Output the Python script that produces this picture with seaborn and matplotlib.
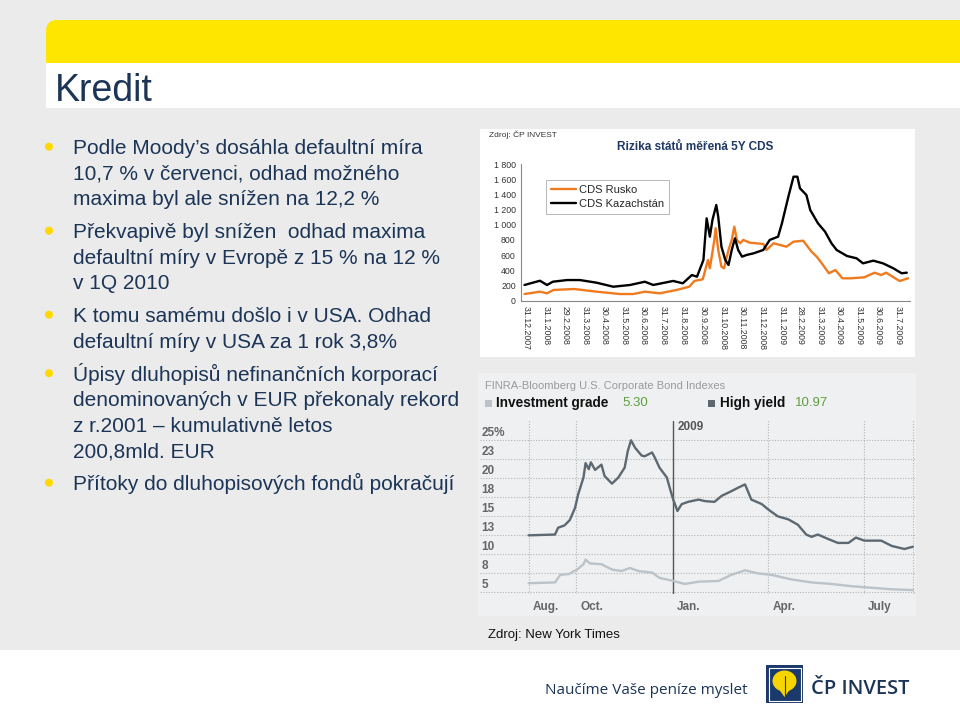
import matplotlib as mpl
import matplotlib.pyplot as plt
from matplotlib.patches import Rectangle, FancyBboxPatch, Circle, Ellipse, Polygon
import seaborn as sns
import pandas as pd

sns.set_style('white')
plt.rcParams['font.family'] = ['Liberation Sans', 'DejaVu Sans']

# ---------------- data ----------------
bullets = [
    ["Podle Moody\u2019s dosáhla defaultní míra",
     "10,7 % v červenci, odhad možného",
     "maxima byl ale snížen na 12,2 %"],
    ["Překvapivě byl snížen  odhad maxima",
     "defaultní míry v Evropě z 15 % na 12 %",
     "v 1Q 2010"],
    ["K tomu samému došlo i v USA. Odhad",
     "defaultní míry v USA za 1 rok 3,8%"],
    ["Úpisy dluhopisů nefinančních korporací",
     "denominovaných v EUR překonaly rekord",
     "z r.2001 \u2013 kumulativně letos",
     "200,8mld. EUR"],
    ["Přítoky do dluhopisových fondů pokračují"],
]

# CDS (bp)
rus_dates = ['2007-12-28', '2008-01-21', '2008-02-01', '2008-02-11', '2008-03-14', '2008-04-18',
             '2008-05-24', '2008-06-14', '2008-07-02', '2008-07-25', '2008-08-20', '2008-09-09',
             '2008-09-17', '2008-09-30', '2008-10-08', '2008-10-11', '2008-10-18', '2008-10-20',
             '2008-10-24', '2008-10-29', '2008-11-02', '2008-11-09', '2008-11-14', '2008-11-18',
             '2008-11-22', '2008-11-27', '2008-12-02', '2008-12-12', '2009-01-02', '2009-01-07',
             '2009-01-18', '2009-01-28', '2009-02-07', '2009-02-18', '2009-03-05', '2009-03-10',
             '2009-03-18', '2009-03-26', '2009-04-03', '2009-04-14', '2009-04-24', '2009-05-05',
             '2009-05-18', '2009-06-08', '2009-06-24', '2009-07-04', '2009-07-12', '2009-07-22',
             '2009-08-02', '2009-08-15']
rus_vals = [88, 119, 97, 141, 154, 119, 88, 88, 119, 97,
            141, 184, 260, 282, 536, 427, 800, 955, 668, 448,
            427, 668, 800, 975, 800, 756, 800, 764, 747, 668,
            756, 734, 711, 777, 790, 734, 645, 580, 492, 361,
            404, 295, 295, 308, 369, 338, 369, 316, 259, 295]

kaz_dates = ['2007-12-28', '2008-01-21', '2008-02-01', '2008-02-10', '2008-03-03', '2008-03-23',
             '2008-04-18', '2008-05-14', '2008-06-09', '2008-07-02', '2008-07-15', '2008-08-15',
             '2008-08-30', '2008-09-13', '2008-09-21', '2008-10-01', '2008-10-06', '2008-10-11',
             '2008-10-15', '2008-10-21', '2008-10-24', '2008-10-29', '2008-11-04', '2008-11-09',
             '2008-11-14', '2008-11-19', '2008-11-24', '2008-11-30', '2008-12-07', '2008-12-18',
             '2009-01-02', '2009-01-12', '2009-01-25', '2009-01-31', '2009-02-10', '2009-02-18',
             '2009-02-24', '2009-02-28', '2009-03-10', '2009-03-16', '2009-03-28', '2009-04-08',
             '2009-04-18', '2009-04-26', '2009-05-12', '2009-05-27', '2009-06-06', '2009-06-22',
             '2009-07-07', '2009-07-23', '2009-08-05', '2009-08-13']
kaz_vals = [207, 263, 207, 250, 272, 272, 237, 184, 207, 250,
            207, 260, 229, 338, 316, 536, 1085, 843, 1063, 1260,
            1106, 711, 536, 470, 668, 822, 668, 580, 602, 624,
            668, 800, 843, 1019, 1370, 1633, 1633, 1480, 1392, 1194,
            1019, 909, 756, 668, 589, 558, 492, 527, 492, 427,
            361, 369]

cds_tick_dates = ['2007-12-31', '2008-01-31', '2008-02-29', '2008-03-31', '2008-04-30',
                  '2008-05-31', '2008-06-30', '2008-07-31', '2008-08-31', '2008-09-30',
                  '2008-10-31', '2008-11-30', '2008-12-31', '2009-01-31', '2009-02-28',
                  '2009-03-31', '2009-04-30', '2009-05-31', '2009-06-30', '2009-07-31']
cds_yticks = [0, 200, 400, 600, 800, 1000, 1200, 1400, 1600, 1800]
cds_ylabels = ['0', '200', '400', '600', '800', '1 000', '1 200', '1 400', '1 600', '1 800']

# FINRA-Bloomberg bond indexes (%)
hy_dates = ['2008-08-17', '2008-09-11', '2008-09-14', '2008-09-20', '2008-09-25', '2008-09-30',
            '2008-10-03', '2008-10-08', '2008-10-10', '2008-10-13', '2008-10-15', '2008-10-19',
            '2008-10-25', '2008-10-28', '2008-11-04', '2008-11-10', '2008-11-16', '2008-11-19',
            '2008-11-22', '2008-11-26', '2008-12-02', '2008-12-05', '2008-12-12', '2008-12-15',
            '2008-12-19', '2008-12-26', '2008-12-29', '2009-01-01', '2009-01-05', '2009-01-09',
            '2009-01-15', '2009-01-25', '2009-01-31', '2009-02-09', '2009-02-16', '2009-02-25',
            '2009-03-04', '2009-03-10', '2009-03-16', '2009-03-26', '2009-04-01', '2009-04-10',
            '2009-04-20', '2009-04-29', '2009-05-07', '2009-05-12', '2009-05-18', '2009-05-28',
            '2009-06-06', '2009-06-16', '2009-06-23', '2009-07-01', '2009-07-17', '2009-07-27',
            '2009-08-08', '2009-08-16']
hy_vals = [12.5, 12.6, 13.5, 13.8, 14.5, 16.1, 17.9, 20.1, 22.0, 21.2,
           22.1, 21.1, 21.8, 20.3, 19.3, 20.1, 21.4, 23.6, 25.0, 24.0,
           23.0, 22.9, 23.4, 22.6, 21.4, 20.1, 18.6, 17.2, 15.7, 16.6,
           16.9, 17.2, 17.0, 16.9, 17.7, 18.3, 18.8, 19.2, 17.2, 16.6,
           15.9, 15.0, 14.6, 13.9, 12.6, 12.3, 12.6, 12.0, 11.5, 11.5,
           12.2, 11.8, 11.8, 11.1, 10.7, 11.0]

ig_dates = ['2008-08-17', '2008-09-11', '2008-09-16', '2008-09-24', '2008-10-02', '2008-10-08',
            '2008-10-10', '2008-10-14', '2008-10-25', '2008-11-04', '2008-11-13', '2008-11-21',
            '2008-11-29', '2008-12-12', '2008-12-19', '2009-01-01', '2009-01-12', '2009-01-25',
            '2009-02-13', '2009-02-25', '2009-03-10', '2009-03-22', '2009-04-04', '2009-04-23',
            '2009-05-12', '2009-05-31', '2009-06-19', '2009-07-08', '2009-07-27', '2009-08-16']
ig_vals = [6.2, 6.3, 7.3, 7.4, 8.0, 8.7, 9.3, 8.8, 8.7, 8.0,
           7.8, 8.2, 7.8, 7.6, 6.9, 6.5, 6.1, 6.4, 6.5, 7.3,
           7.9, 7.5, 7.3, 6.7, 6.3, 6.1, 5.8, 5.6, 5.4, 5.3]

bond_grid = [25, 22.5, 20, 17.5, 15, 12.5, 10, 7.5, 5]
bond_ylabels = ['25%', '23', '20', '18', '15', '13', '10', '8', '5']
bond_vlines = ['2008-08-17', '2008-10-01', '2009-04-01', '2009-07-01', '2009-08-16']
bond_xlabel_dates = ['2008-08-17', '2008-10-01', '2009-01-01', '2009-04-01', '2009-07-01']
bond_xlabels = ['Aug.', 'Oct.', 'Jan.', 'Apr.', 'July']

NAVY = '#1c3557'
ORANGE = '#f07a1e'
HY_COL = '#5d6870'
IG_COL = '#bcc3c8'

# ---------------- slide background ----------------
fig = plt.figure(figsize=(9.6, 7.18), dpi=100)
bg = fig.add_axes([0, 0, 1, 1], zorder=0)
bg.set_xlim(0, 960)
bg.set_ylim(718, 0)
bg.axis('off')

bg.add_patch(Rectangle((0, 0), 960, 650, fc='#ebebeb', lw=0))
bg.add_patch(FancyBboxPatch((46, 20), 960, 60, boxstyle='round,pad=0,rounding_size=11',
                            fc='#ffe600', ec='none'))
bg.add_patch(Rectangle((46, 63), 914, 45, fc='white', lw=0))
bg.text(55, 101, 'Kredit', fontsize=27, color=NAVY, va='baseline')

# bullets
y = 146.7
for lines in bullets:
    bg.add_patch(Circle((49, y), 4, fc='#ffd800', ec='none'))
    for ln in lines:
        bg.text(73, y + 7.5, ln, fontsize=15, color=NAVY, va='baseline')
        y += 25.5
    y += 7.5

# chart panels
bg.add_patch(Rectangle((480, 129), 435, 228, fc='white', lw=0))
bg.add_patch(Rectangle((478, 373), 438, 243, fc='#eef0f1', lw=0))
bg.text(489, 135, 'Zdroj: ČP INVEST', fontsize=6, color='#333333', va='center')
bg.text(695, 146.5, 'Rizika států měřená 5Y CDS', fontsize=8.5, fontweight='bold',
        color='#1f3864', ha='center', va='center')

bg.text(485, 386, 'FINRA-Bloomberg U.S. Corporate Bond Indexes', fontsize=8,
        color='#9a9a9a', va='center')
bg.add_patch(Rectangle((485, 399.5), 7, 7, fc=IG_COL, lw=0))
bg.text(496, 403.5, 'Investment grade', fontsize=9.8, fontweight='bold', color='#111111', va='center')
bg.text(622, 403.5, '5.30', fontsize=9.5, color='#5e9e3f', va='center')
bg.add_patch(Rectangle((708, 399.5), 7, 7, fc=HY_COL, lw=0))
bg.text(720, 403.5, 'High yield', fontsize=9.8, fontweight='bold', color='#111111', va='center')
bg.text(795, 403.5, '10.97', fontsize=9.5, color='#5e9e3f', va='center')
bg.text(488, 635, 'Zdroj: New York Times', fontsize=9.5, color='#111111', va='center')

# footer
bg.text(545, 691, 'Naučíme Vaše peníze myslet', fontsize=11, color=NAVY, va='center',
        family=['Open Sans', 'DejaVu Sans'])
bg.add_patch(Rectangle((766, 665), 37, 38, fc='#1b3a6b', lw=0))
bg.add_patch(Rectangle((768.5, 667.5), 32, 33, fc='none', ec='white', lw=0.8))
bg.add_patch(Ellipse((784.5, 681), 24, 21, fc='#f5d400', ec='none'))
bg.add_patch(Polygon([(778, 688), (791, 688), (784.5, 697)], fc='#f5d400', ec='none'))
bg.plot([784.5, 784.5], [676, 699], color='#1b3a6b', lw=0.8)
bg.text(811, 689, 'ČP INVEST', fontsize=14.5, color=NAVY, va='center', fontweight='semibold',
        family=['Open Sans', 'DejaVu Sans'])

# ---------------- CDS chart ----------------
ax1 = fig.add_axes([521.3 / 960, 1 - 300.7 / 718, (910 - 521.3) / 960, (300.7 - 164) / 718], zorder=2)
ax1.set_facecolor('none')
sns.lineplot(x=pd.to_datetime(rus_dates), y=rus_vals, ax=ax1, color=ORANGE, lw=1.7,
             label='CDS Rusko')
sns.lineplot(x=pd.to_datetime(kaz_dates), y=kaz_vals, ax=ax1, color='black', lw=1.7,
             label='CDS Kazachstán')
ax1.set_xlim(pd.Timestamp('2007-12-23'), pd.Timestamp('2009-08-18'))
ax1.set_ylim(0, 1800)
ax1.set_yticks(cds_yticks)
ax1.set_yticklabels(cds_ylabels)
ax1.set_xticks(pd.to_datetime(cds_tick_dates))
ax1.set_xticklabels([f'{d.day}.{d.month}.{d.year}' for d in pd.to_datetime(cds_tick_dates)],
                    rotation=-90)
ax1.tick_params(axis='both', labelsize=6.3, colors='#888888', labelcolor='#333333',
                length=2.5, width=0.6, pad=1.5, direction='out')
for side in ['top', 'right']:
    ax1.spines[side].set_visible(False)
for side in ['left', 'bottom']:
    ax1.spines[side].set_color('#888888')
    ax1.spines[side].set_linewidth(0.8)
ax1.set_xlabel('')
ax1.set_ylabel('')
leg = ax1.legend(loc='upper left', bbox_to_anchor=(0.063, 0.885), borderaxespad=0,
                 fontsize=8, frameon=True, fancybox=False, handlelength=2.3,
                 labelspacing=0.4, borderpad=0.45, handletextpad=0.2)
leg.get_frame().set_edgecolor('#999999')
leg.get_frame().set_linewidth(0.6)

# ---------------- bond index chart ----------------
ax2 = fig.add_axes([480 / 960, 1 - 594 / 718, 435 / 960, 174 / 718], zorder=2)
ax2.set_facecolor('none')
ax2.set_xlim(pd.Timestamp('2008-07-02'), pd.Timestamp('2009-08-18'))
ax2.set_ylim(4.78, 27.67)
for v in bond_grid:
    ax2.axhline(v, color='#b5b5b5', lw=0.8, ls=(0, (1, 1.5)), zorder=1)
for d in bond_vlines:
    ax2.axvline(pd.Timestamp(d), color='#b5b5b5', lw=0.8, ls=(0, (1, 1.5)), zorder=1)
ax2.axvline(pd.Timestamp('2009-01-01'), ymax=(27.67 - 4.78 - 0.1) / (27.67 - 4.78),
            color='#555555', lw=1.0, zorder=2)
sns.lineplot(x=pd.to_datetime(ig_dates), y=ig_vals, ax=ax2, color=IG_COL, lw=1.7, zorder=3)
sns.lineplot(x=pd.to_datetime(hy_dates), y=hy_vals, ax=ax2, color=HY_COL, lw=1.7, zorder=3)
ax2.axis('off')

ytrans = mpl.transforms.blended_transform_factory(ax2.transAxes, ax2.transData)
for v, lab in zip(bond_grid, bond_ylabels):
    ax2.text(0.003, v + 0.57, lab, transform=ytrans, fontsize=8.5, color='#666666',
             fontweight='bold', va='baseline', ha='left')
xtrans = mpl.transforms.blended_transform_factory(ax2.transData, ax2.transAxes)
xtrans = mpl.transforms.offset_copy(xtrans, fig=fig, x=4, units='dots')
for d, lab in zip(bond_xlabel_dates, bond_xlabels):
    ax2.text(pd.Timestamp(d), -0.073, lab, transform=xtrans, fontsize=8.5, color='#666666',
             fontweight='bold', va='center', ha='left')
ax2.text(pd.Timestamp('2009-01-01'), 0.96, '2009', transform=xtrans, fontsize=8.5,
         color='#555555', fontweight='bold', va='center', ha='left')

fig.savefig('out.png', dpi=100)
